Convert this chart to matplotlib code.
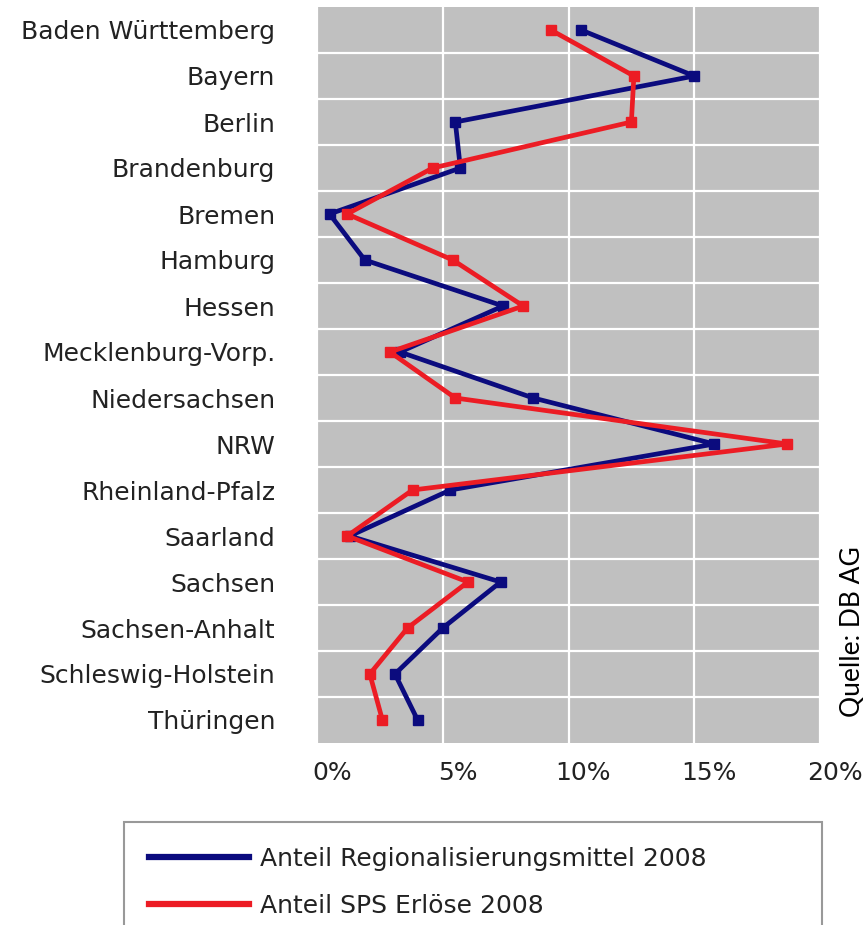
import matplotlib
matplotlib.use('Agg')
import matplotlib.pyplot as plt
from matplotlib.lines import Line2D
from matplotlib.ticker import PercentFormatter, FixedLocator
from matplotlib.transforms import ScaledTranslation

# data (shares in %)
states = ['Baden Württemberg', 'Bayern', 'Berlin', 'Brandenburg', 'Bremen', 'Hamburg',
          'Hessen', 'Mecklenburg-Vorp.', 'Niedersachsen', 'NRW', 'Rheinland-Pfalz',
          'Saarland', 'Sachsen', 'Sachsen-Anhalt', 'Schleswig-Holstein', 'Thüringen']
regmittel = [10.5, 15.0, 5.5, 5.7, 0.5, 1.9, 7.4, 3.3, 8.6, 15.8, 5.3, 1.3, 7.3, 5.0, 3.1, 4.0]
sps_erloese = [9.3, 12.6, 12.5, 4.6, 1.2, 5.4, 8.2, 2.9, 5.5, 18.7, 3.8, 1.2, 6.0, 3.6, 2.1, 2.6]
series_labels = ['Anteil Regionalisierungsmittel 2008', 'Anteil SPS Erlöse 2008']
x_ticks = [0, 5, 10, 15, 20]

blue = '#0b0b7e'
red = '#ec1c24'
fs = 18

plt.rcParams['font.family'] = ['DejaVu Sans']
fig = plt.figure(figsize=(8.68, 9.25), dpi=100)
W, H = 868, 925
ax = fig.add_axes([317 / W, 1 - 743 / H, (820 - 317) / W, (743 - 7) / H])
ax.set_facecolor('#c0c0c0')

ypos = list(range(len(states)))
ax.plot(regmittel, ypos, color=blue, lw=3.4, marker='s', ms=6.5, zorder=3)
ax.plot(sps_erloese, ypos, color=red, lw=3.4, marker='s', ms=6.5, zorder=4)

ax.set_xlim(0, 20)
ax.set_ylim(len(states) - 0.5, -0.5)
ax.set_xticks(x_ticks)
ax.xaxis.set_major_formatter(PercentFormatter(xmax=100, decimals=0))
ax.set_yticks(ypos)
ax.set_yticklabels(states)
ax.yaxis.set_minor_locator(FixedLocator([i + 0.5 for i in range(len(states) - 1)]))
ax.tick_params(axis='y', which='both', length=0, pad=30, labelsize=fs, colors='#222222')
ax.tick_params(axis='x', length=0, pad=13, labelsize=fs, colors='#222222')
for lab in ax.get_xticklabels():
    lab.set_transform(lab.get_transform() + ScaledTranslation(0.15, 0, fig.dpi_scale_trans))

ax.grid(axis='x', which='major', color='white', lw=1.6)
ax.grid(axis='y', which='minor', color='white', lw=1.6)
ax.set_axisbelow(True)
for s in ax.spines.values():
    s.set_visible(False)

fig.text(852 / W, 1 - 717 / H, 'Quelle: DB AG', rotation=90, ha='center', va='bottom',
         fontsize=19, family=['Lato', 'DejaVu Sans'], color='black')

handles = [Line2D([], [], color=blue, lw=4.5), Line2D([], [], color=red, lw=4.5)]
leg = fig.legend(handles, series_labels, loc='upper left',
                 bbox_to_anchor=(124 / W, 1 - 823 / H, (822 - 124) / W, 0.001),
                 mode='expand', fontsize=fs, frameon=True, fancybox=False,
                 borderpad=1.0, handlelength=4.0, handletextpad=0.45,
                 labelspacing=0.92, borderaxespad=0)
leg.get_frame().set_edgecolor('#808080')
leg.get_frame().set_linewidth(1.5)
for t in leg.get_texts():
    t.set_color('#222222')

fig.savefig('out.png', dpi=100)
